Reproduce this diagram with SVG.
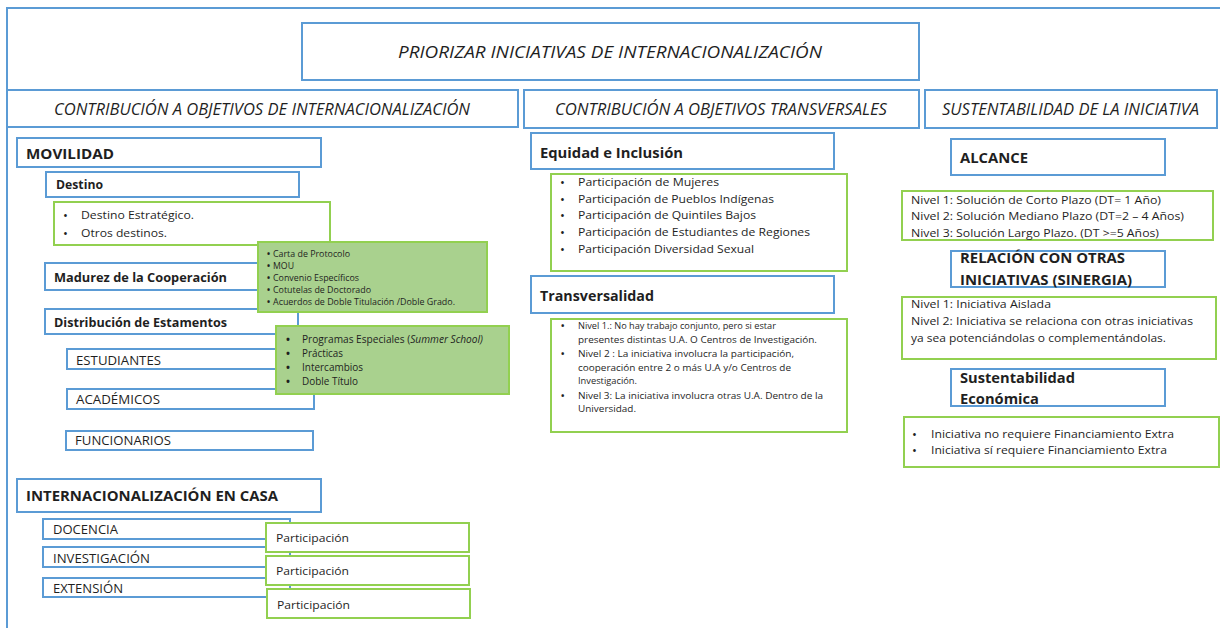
<svg xmlns="http://www.w3.org/2000/svg" width="1222" height="628" viewBox="0 0 1222 628">
  <style>
    text { font-family: "Open Sans", "Noto Sans", sans-serif; fill: #1f1f1f; }
    .b { fill: #fff; stroke: #5b9bd5; stroke-width: 2; }
    .g { fill: #fff; stroke: #92d050; stroke-width: 2; }
    .gf { fill: #a9d18e; stroke: #92d050; stroke-width: 2; }
    .frame { fill: none; stroke: #5b9bd5; stroke-width: 2; }
    .it { font-style: italic; }
    .bd { font-weight: bold; }
    .t17 { font-size: 17px; }
    .t15 { font-size: 15px; }
    .h { font-size: 15.5px; }
    .s13 { font-size: 13px; }
    .s12 { font-size: 11.5px; }
    .s11 { font-size: 10.5px; }
    .s9 { font-size: 9px; }
    .s8 { font-size: 8.2px; }
    .bl { font-size: 13px; }
    .dot { font-weight: bold; }
  </style>

  <!-- outer frame -->
  <path class="frame" d="M7,628 V8 H1220"/>

  <g id="title">
    <rect class="b" x="302" y="23" width="617" height="57"/>
    <text class="it t17" x="398" y="58" textLength="424" lengthAdjust="spacingAndGlyphs">PRIORIZAR INICIATIVAS DE INTERNACIONALIZACIÓN</text>
  </g>

  <g id="hdr-internacionalizacion">
    <rect class="b" x="7" y="90" width="511" height="37"/>
    <text class="it h" x="54" y="115" textLength="416" lengthAdjust="spacingAndGlyphs">CONTRIBUCIÓN A OBJETIVOS DE INTERNACIONALIZACIÓN</text>
  </g>
  <g id="hdr-transversales">
    <rect class="b" x="524" y="90" width="395" height="38"/>
    <text class="it h" x="555" y="115" textLength="332" lengthAdjust="spacingAndGlyphs">CONTRIBUCIÓN A OBJETIVOS TRANSVERSALES</text>
  </g>
  <g id="hdr-sustentabilidad">
    <rect class="b" x="925" y="90" width="292" height="38"/>
    <text class="it h" x="942" y="115" textLength="257" lengthAdjust="spacingAndGlyphs">SUSTENTABILIDAD DE LA INICIATIVA</text>
  </g>

  <!-- left column: movilidad -->
  <g id="movilidad">
    <rect class="b" x="17" y="138" width="304" height="29"/>
    <text class="bd t15" x="26" y="159" textLength="88" lengthAdjust="spacingAndGlyphs">MOVILIDAD</text>
  </g>
  <g id="destino">
    <rect class="b" x="46" y="172" width="253" height="25"/>
    <text class="bd s12" x="56" y="189" textLength="47" lengthAdjust="spacingAndGlyphs">Destino</text>
  </g>
  <g id="destino-lista">
    <rect class="g" x="54" y="202" width="276" height="43"/>
    <text class="bl" x="63" y="220">•</text>
    <text class="s12" x="81" y="219" textLength="113" lengthAdjust="spacingAndGlyphs">Destino Estratégico.</text>
    <text class="bl" x="63" y="238">•</text>
    <text class="s12" x="81" y="237" textLength="86" lengthAdjust="spacingAndGlyphs">Otros destinos.</text>
  </g>
  <g id="madurez">
    <rect class="b" x="45" y="263" width="253" height="27"/>
    <text class="bd s13" x="54" y="282" textLength="173" lengthAdjust="spacingAndGlyphs">Madurez de la Cooperación</text>
  </g>
  <g id="distribucion">
    <rect class="b" x="45" y="309" width="253" height="25"/>
    <text class="bd s13" x="54" y="327" textLength="173" lengthAdjust="spacingAndGlyphs">Distribución de Estamentos</text>
  </g>
  <g id="estudiantes">
    <rect class="b" x="67" y="349" width="246" height="20"/>
    <text class="s13" x="76" y="365" textLength="85" lengthAdjust="spacingAndGlyphs">ESTUDIANTES</text>
  </g>
  <g id="academicos">
    <rect class="b" x="67" y="389" width="247" height="20"/>
    <text class="s13" x="76" y="404" textLength="84" lengthAdjust="spacingAndGlyphs">ACADÉMICOS</text>
  </g>
  <g id="funcionarios">
    <rect class="b" x="66" y="431" width="247" height="19"/>
    <text class="s13" x="75" y="445" textLength="96" lengthAdjust="spacingAndGlyphs">FUNCIONARIOS</text>
  </g>
  <g id="acuerdos">
    <rect class="gf" x="258" y="242" width="229" height="70"/>
    <g class="s8">
      <text class="dot" x="267" y="257">•</text><text x="273" y="257" textLength="77" lengthAdjust="spacingAndGlyphs">Carta de Protocolo</text>
      <text class="dot" x="267" y="269">•</text><text x="273" y="269" textLength="21" lengthAdjust="spacingAndGlyphs">MOU</text>
      <text class="dot" x="267" y="281">•</text><text x="273" y="281" textLength="86" lengthAdjust="spacingAndGlyphs">Convenio Específicos</text>
      <text class="dot" x="267" y="293">•</text><text x="273" y="293" textLength="98" lengthAdjust="spacingAndGlyphs">Cotutelas de Doctorado</text>
      <text class="dot" x="267" y="305">•</text><text x="273" y="305" textLength="182" lengthAdjust="spacingAndGlyphs">Acuerdos de Doble Titulación /Doble Grado.</text>
    </g>
  </g>
  <g id="programas">
    <rect class="gf" x="276" y="326" width="233" height="68"/>
    <g class="s11">
      <text class="dot" x="286" y="343">•</text><text x="302" y="343" textLength="181" lengthAdjust="spacingAndGlyphs">Programas Especiales (<tspan class="it">Summer School)</tspan></text>
      <text class="dot" x="286" y="357">•</text><text x="302" y="357" textLength="41" lengthAdjust="spacingAndGlyphs">Prácticas</text>
      <text class="dot" x="286" y="371">•</text><text x="302" y="371" textLength="61" lengthAdjust="spacingAndGlyphs">Intercambios</text>
      <text class="dot" x="286" y="385">•</text><text x="302" y="385" textLength="56" lengthAdjust="spacingAndGlyphs">Doble Título</text>
    </g>
  </g>

  <!-- left column: internacionalización en casa -->
  <g id="casa">
    <rect class="b" x="17" y="479" width="304" height="33"/>
    <text class="bd t15" x="26" y="501" textLength="252" lengthAdjust="spacingAndGlyphs">INTERNACIONALIZACIÓN EN CASA</text>
  </g>
  <g id="docencia">
    <rect class="b" x="43" y="519" width="247" height="20"/>
    <text class="s13" x="53" y="534" textLength="65" lengthAdjust="spacingAndGlyphs">DOCENCIA</text>
  </g>
  <g id="investigacion">
    <rect class="b" x="43" y="547" width="247" height="20"/>
    <text class="s13" x="53" y="563" textLength="97" lengthAdjust="spacingAndGlyphs">INVESTIGACIÓN</text>
  </g>
  <g id="extension">
    <rect class="b" x="43" y="578" width="247" height="19"/>
    <text class="s13" x="53" y="593" textLength="70" lengthAdjust="spacingAndGlyphs">EXTENSIÓN</text>
  </g>
  <g id="participacion-docencia">
    <rect class="g" x="266" y="523" width="203" height="29"/>
    <text class="s12" x="276" y="542" textLength="73" lengthAdjust="spacingAndGlyphs">Participación</text>
  </g>
  <g id="participacion-investigacion">
    <rect class="g" x="266" y="556" width="203" height="29"/>
    <text class="s12" x="276" y="575" textLength="73" lengthAdjust="spacingAndGlyphs">Participación</text>
  </g>
  <g id="participacion-extension">
    <rect class="g" x="267" y="589" width="203" height="29"/>
    <text class="s12" x="277" y="609" textLength="73" lengthAdjust="spacingAndGlyphs">Participación</text>
  </g>

  <!-- middle column -->
  <g id="equidad">
    <rect class="b" x="531" y="133" width="303" height="36"/>
    <text class="bd t15" x="540" y="158" textLength="143" lengthAdjust="spacingAndGlyphs">Equidad e Inclusión</text>
  </g>
  <g id="equidad-lista">
    <rect class="g" x="551" y="174" width="296" height="97"/>
    <g class="s12">
      <text class="bl" x="560" y="187">•</text><text x="578" y="186" textLength="141" lengthAdjust="spacingAndGlyphs">Participación de Mujeres</text>
      <text class="bl" x="560" y="204">•</text><text x="578" y="203" textLength="196" lengthAdjust="spacingAndGlyphs">Participación de Pueblos Indígenas</text>
      <text class="bl" x="560" y="220">•</text><text x="578" y="219" textLength="178" lengthAdjust="spacingAndGlyphs">Participación de Quintiles Bajos</text>
      <text class="bl" x="560" y="237">•</text><text x="578" y="236" textLength="232" lengthAdjust="spacingAndGlyphs">Participación de Estudiantes de Regiones</text>
      <text class="bl" x="560" y="254">•</text><text x="578" y="253" textLength="176" lengthAdjust="spacingAndGlyphs">Participación Diversidad Sexual</text>
    </g>
  </g>
  <g id="transversalidad">
    <rect class="b" x="531" y="276" width="303" height="37"/>
    <text class="bd t15" x="540" y="301" textLength="114" lengthAdjust="spacingAndGlyphs">Transversalidad</text>
  </g>
  <g id="transversalidad-lista">
    <rect class="g" x="551" y="319" width="296" height="113"/>
    <g class="s9">
      <text class="dot" x="561" y="329">•</text><text x="578" y="329" textLength="198" lengthAdjust="spacingAndGlyphs">Nivel 1.: No hay trabajo conjunto, pero si estar</text>
      <text x="578" y="343" textLength="239" lengthAdjust="spacingAndGlyphs">presentes distintas U.A. O Centros de Investigación.</text>
      <text class="dot" x="561" y="357">•</text><text x="578" y="357" textLength="216" lengthAdjust="spacingAndGlyphs">Nivel 2 : La iniciativa involucra la participación,</text>
      <text x="578" y="371" textLength="213" lengthAdjust="spacingAndGlyphs">cooperación entre 2 o más U.A y/o Centros de</text>
      <text x="578" y="384" textLength="59" lengthAdjust="spacingAndGlyphs">Investigación.</text>
      <text class="dot" x="561" y="399">•</text><text x="578" y="399" textLength="245" lengthAdjust="spacingAndGlyphs">Nivel 3: La iniciativa involucra otras U.A. Dentro de la</text>
      <text x="578" y="412" textLength="58" lengthAdjust="spacingAndGlyphs">Universidad.</text>
    </g>
  </g>

  <!-- right column -->
  <g id="alcance">
    <rect class="b" x="951" y="139" width="214" height="36"/>
    <text class="bd t15" x="960" y="163" textLength="68" lengthAdjust="spacingAndGlyphs">ALCANCE</text>
  </g>
  <g id="alcance-lista">
    <rect class="g" x="902" y="191" width="311" height="49"/>
    <g class="s12">
      <text x="911" y="204" textLength="250" lengthAdjust="spacingAndGlyphs">Nivel 1: Solución de Corto Plazo (DT= 1 Año)</text>
      <text x="911" y="220" textLength="273" lengthAdjust="spacingAndGlyphs">Nivel 2: Solución Mediano Plazo (DT=2 – 4 Años)</text>
      <text x="911" y="237" textLength="248" lengthAdjust="spacingAndGlyphs">Nivel 3: Solución Largo Plazo. (DT &gt;=5 Años)</text>
    </g>
  </g>
  <g id="relacion">
    <rect class="b" x="951" y="251" width="214" height="36"/>
    <text class="bd t15" x="960" y="263" textLength="165" lengthAdjust="spacingAndGlyphs">RELACIÓN CON OTRAS</text>
    <text class="bd t15" x="960" y="285" textLength="172" lengthAdjust="spacingAndGlyphs">INICIATIVAS (SINERGIA)</text>
  </g>
  <g id="relacion-lista">
    <rect class="g" x="902" y="297" width="314" height="62"/>
    <g class="s12">
      <text x="911" y="308" textLength="140" lengthAdjust="spacingAndGlyphs">Nivel 1: Iniciativa Aislada</text>
      <text x="911" y="325" textLength="282" lengthAdjust="spacingAndGlyphs">Nivel 2: Iniciativa se relaciona con otras iniciativas</text>
      <text x="911" y="342" textLength="255" lengthAdjust="spacingAndGlyphs">ya sea potenciándolas o complementándolas.</text>
    </g>
  </g>
  <g id="economica">
    <rect class="b" x="951" y="369" width="214" height="37"/>
    <text class="bd t15" x="960" y="383" textLength="115" lengthAdjust="spacingAndGlyphs">Sustentabilidad</text>
    <text class="bd t15" x="960" y="404" textLength="79" lengthAdjust="spacingAndGlyphs">Económica</text>
  </g>
  <g id="economica-lista">
    <rect class="g" x="904" y="417" width="315" height="50"/>
    <g class="s12">
      <text class="bl" x="912" y="439">•</text><text x="931" y="438" textLength="243" lengthAdjust="spacingAndGlyphs">Iniciativa no requiere Financiamiento Extra</text>
      <text class="bl" x="912" y="455">•</text><text x="931" y="454" textLength="236" lengthAdjust="spacingAndGlyphs">Iniciativa sí requiere Financiamiento Extra</text>
    </g>
  </g>
</svg>
